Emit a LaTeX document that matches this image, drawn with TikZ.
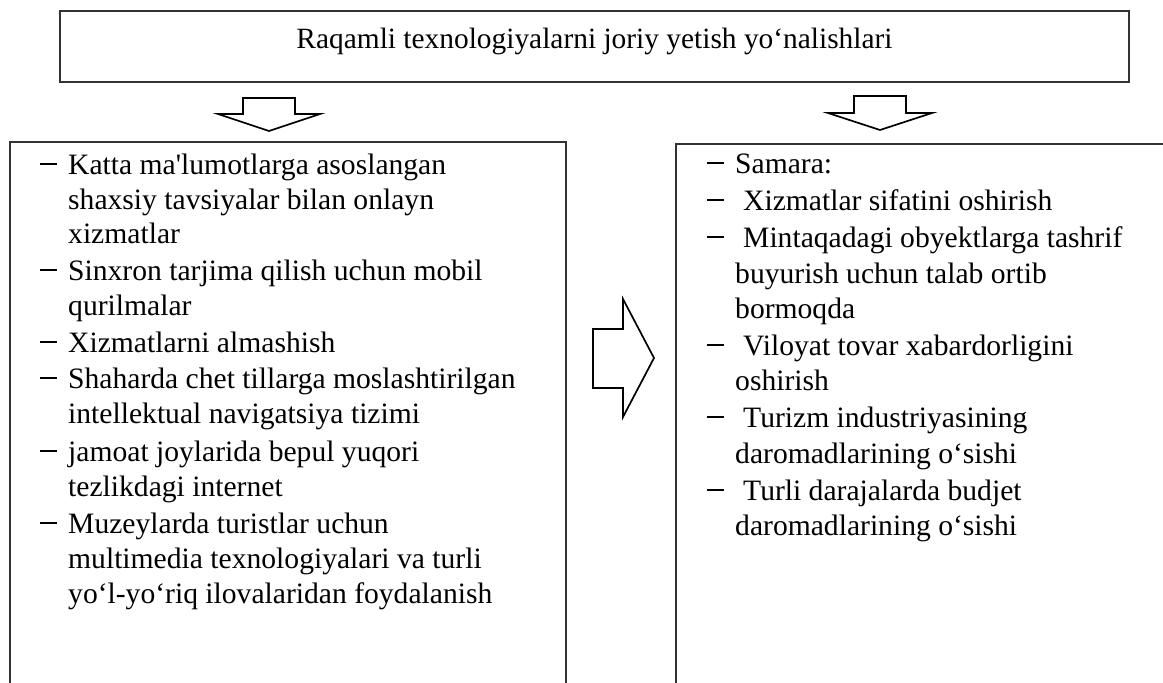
\documentclass[tikz,border=0pt]{standalone}
\usepackage{fontspec}
\setmainfont{Liberation Serif}[Ligatures=TeXOff]
\begin{document}
\begin{tikzpicture}[x=1pt,y=-1pt]
\tikzset{
  frame/.style={draw=black!80, line width=1.1pt},
  blockarrow/.style={draw=black, line width=1.7pt, line join=miter, fill=white},
  txt/.style={anchor=base west, inner sep=0pt, font=\fontsize{29.6}{34}\selectfont},
  titletxt/.style={anchor=base, inner sep=0pt, font=\fontsize{29.4}{34}\selectfont},
  dashmark/.style={anchor=base west, inner sep=0pt, font=\fontsize{29.6}{34}\selectfont},
}
\newcommand{\itemdash}{\rule[9.3pt]{16.5pt}{1.4pt}}
\useasboundingbox (0,0) rectangle (1163,683);

% title box
\node[frame, minimum width=1069pt, minimum height=71pt, inner sep=0pt] (titlebox) at (594.5,46.5) {};
\node[titletxt] (title) at (594.5,48) {Raqamli texnologiyalarni joriy yetish yo‘nalishlari};

% open boxes (cut at the bottom / right)
\coordinate (lbl) at (10,683);
\coordinate (ltl) at (10,142);
\coordinate (ltr) at (566,142);
\coordinate (lbr) at (566,683);
\draw[frame] (lbl) -- (ltl) -- (ltr) -- (lbr);
\coordinate (rbl) at (676,683);
\coordinate (rtl) at (676,144);
\coordinate (rtr) at (1163,144);
\draw[frame] (rbl) -- (rtl) -- (rtr);

% block arrows
\draw[blockarrow] (243,98) -- (295,98) -- (295,114) -- (320,114) -- (269,131) -- (218,114) -- (243,114) -- cycle;
\draw[blockarrow] (854,96) -- (906,96) -- (906,113) -- (932,113) -- (880,130) -- (828,113) -- (854,113) -- cycle;
\draw[blockarrow] (593,329) -- (623,329) -- (623,299) -- (654,358) -- (623,417) -- (623,388) -- (593,388) -- cycle;

% left list
\node[dashmark] (ld1) at (40,174) {\itemdash};
\node[txt] (l1a) at (68,174) {Katta ma'lumotlarga asoslangan};
\node[txt] (l1b) at (68,209) {shaxsiy tavsiyalar bilan onlayn};
\node[txt] (l1c) at (68,243) {xizmatlar};
\node[dashmark] (ld2) at (40,280) {\itemdash};
\node[txt] (l2a) at (68,280) {Sinxron tarjima qilish uchun mobil};
\node[txt] (l2b) at (68,315) {qurilmalar};
\node[dashmark] (ld3) at (40,352) {\itemdash};
\node[txt] (l3a) at (68,352) {Xizmatlarni almashish};
\node[dashmark] (ld4) at (40,388) {\itemdash};
\node[txt] (l4a) at (68,388) {Shaharda chet tillarga moslashtirilgan};
\node[txt] (l4b) at (68,423) {intellektual navigatsiya tizimi};
\node[dashmark] (ld5) at (40,461) {\itemdash};
\node[txt] (l5a) at (68,461) {jamoat joylarida bepul yuqori};
\node[txt] (l5b) at (68,496) {tezlikdagi internet};
\node[dashmark] (ld6) at (40,533) {\itemdash};
\node[txt] (l6a) at (68,533) {Muzeylarda turistlar uchun};
\node[txt] (l6b) at (68,568) {multimedia texnologiyalari va turli};
\node[txt] (l6c) at (68,603) {yo‘l-yo‘riq ilovalaridan foydalanish};

% right list
\node[dashmark] (rd1) at (707,173) {\itemdash};
\node[txt] (r1a) at (735,173) {Samara:};
\node[dashmark] (rd2) at (707,210) {\itemdash};
\node[txt] (r2a) at (743,210) {Xizmatlar sifatini oshirish};
\node[dashmark] (rd3) at (707,247) {\itemdash};
\node[txt] (r3a) at (743,247) {Mintaqadagi obyektlarga tashrif};
\node[txt] (r3b) at (735,283) {buyurish uchun talab ortib};
\node[txt] (r3c) at (735,318) {bormoqda};
\node[dashmark] (rd4) at (707,355) {\itemdash};
\node[txt] (r4a) at (743,355) {Viloyat tovar xabardorligini};
\node[txt] (r4b) at (735,390) {oshirish};
\node[dashmark] (rd5) at (707,427) {\itemdash};
\node[txt] (r5a) at (743,427) {Turizm industriyasining};
\node[txt] (r5b) at (735,463) {daromadlarining o‘sishi};
\node[dashmark] (rd6) at (707,500) {\itemdash};
\node[txt] (r6a) at (743,500) {Turli darajalarda budjet};
\node[txt] (r6b) at (735,535) {daromadlarining o‘sishi};
\end{tikzpicture}
\end{document}
